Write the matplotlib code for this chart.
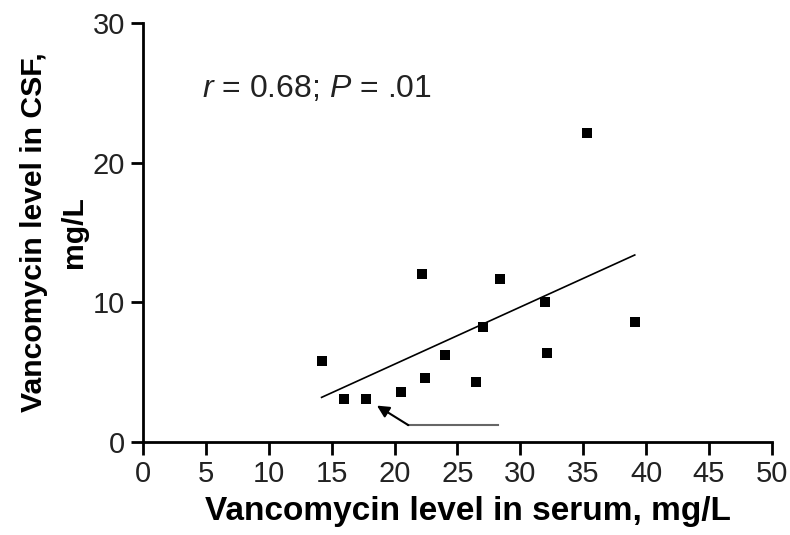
import numpy as np
import matplotlib
matplotlib.use("Agg")
import matplotlib.pyplot as plt

serum = [14.2, 16.0, 17.7, 20.5, 22.2, 22.4, 24.0, 26.5, 27.0, 28.4, 32.0, 32.1, 35.3, 39.1]
csf = [5.8, 3.05, 3.05, 3.6, 12.0, 4.6, 6.2, 4.3, 8.2, 11.7, 10.0, 6.4, 22.1, 8.6]
x_ticks = [0, 5, 10, 15, 20, 25, 30, 35, 40, 45, 50]
y_ticks = [0, 10, 20, 30]
stat_text = "$\\it{r}$ = 0.68; $\\it{P}$ = .01"
arrow_tail_x = [28.2, 21.1]
arrow_y = 1.2
arrow_head = (18.6, 2.6)

plt.rcParams['font.family'] = ['Liberation Sans', 'DejaVu Sans']
plt.rcParams['mathtext.fontset'] = 'custom'
plt.rcParams['mathtext.rm'] = 'Liberation Sans'
plt.rcParams['mathtext.it'] = 'Liberation Sans:italic'

fig = plt.figure(figsize=(7.9, 5.35), dpi=100)
ax = fig.add_axes([0.181, 0.174, 0.796, 0.783])

ax.scatter(serum, csf, marker='s', s=55, color='black', zorder=3, linewidths=0)
b, a = np.polyfit(serum, csf, 1)
xs = np.array([min(serum), max(serum)])
ax.plot(xs, a + b * xs, color='black', lw=1.2)

ax.plot(arrow_tail_x, [arrow_y, arrow_y], color='#666666', lw=1.5)
ax.annotate('', xy=arrow_head, xytext=(arrow_tail_x[1], arrow_y),
            arrowprops=dict(arrowstyle='-|>', color='black', lw=1.5,
                            mutation_scale=18, shrinkA=0, shrinkB=0))

ax.text(4.7, 25.3, stat_text, fontsize=23, va='center', ha='left', color='#222222')

ax.set_xlim(0, 50)
ax.set_ylim(0, 30)
ax.set_xticks(x_ticks)
ax.set_yticks(y_ticks)
ax.tick_params(axis='both', labelsize=21, width=2, length=9, direction='out', pad=4,
               labelcolor='#222222')
for s in ['top', 'right']:
    ax.spines[s].set_visible(False)
for s in ['left', 'bottom']:
    ax.spines[s].set_linewidth(2)

ax.set_xlabel("Vancomycin level in serum, mg/L", fontsize=24, fontweight='bold', labelpad=6)
ax.xaxis.label.set_x(0.517)
ax.set_ylabel("Vancomycin level in CSF,\nmg/L", fontsize=21.7, fontweight='bold',
              labelpad=3, linespacing=1.55)

fig.savefig("out.png", dpi=100)
